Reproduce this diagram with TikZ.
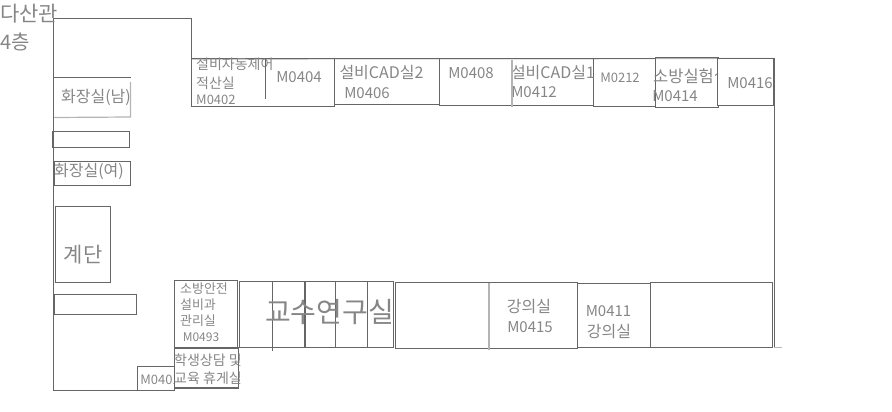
\documentclass[tikz,border=0pt]{standalone}
\usepackage{fontspec}
\setmainfont{Noto Sans CJK KR}
\usetikzlibrary{positioning}
\definecolor{wallgray}{HTML}{666666}
\definecolor{palegray}{HTML}{B4B4B4}
\definecolor{textgray}{HTML}{868686}
\tikzset{
  room/.style={rectangle, draw=wallgray, line width=1pt, anchor=north west, inner sep=0pt, outer sep=0pt},
  wall/.style={draw=wallgray, line width=1pt},
  palewall/.style={draw=palegray, line width=1.2pt},
  lbl/.style={text=textgray, inner sep=0pt, font=\fontsize{13}{13}\selectfont},
  lblmid/.style={lbl, font=\fontsize{15}{15}\selectfont},
  lblkr/.style={lbl, font=\fontsize{16}{16}\selectfont},
  lblleft/.style={lbl, anchor=west},
  lblbig/.style={lbl, font=\fontsize{21}{21}\selectfont},
  lblhuge/.style={lbl, font=\fontsize{28}{28}\selectfont},
}

\begin{document}
\begin{tikzpicture}[x=1pt, y=-1pt]
\useasboundingbox (0,0) rectangle (892,412);

% ================= OUTER WALLS =================
\coordinate (nw) at (53.5,18.5);
\coordinate (ne) at (191.5,18.5);
\coordinate (sw) at (53.5,390);
\coordinate (se) at (174,390);
\coordinate (wingtop) at (191.5,59);
\coordinate (wingend) at (774,58.5);
\coordinate (wingfoot) at (774,347.5);
\coordinate (stub) at (782,347.5);
\draw[wall] (se) -- (sw) -- (nw) -- (ne) -- (wingtop);
\draw[palewall] (wingtop) -- (wingend);
\draw[wall] (wingend) -- (wingfoot);
\draw[palewall] (wingfoot) -- (stub);

% ================= TOP ROW =================
\node[room, minimum width=143pt, minimum height=47pt] (r0402) at (191.5,59) {};
\node[room, minimum width=105pt, minimum height=45pt] (r0406) at (334.5,59) {};
\node[room, minimum width=154pt, minimum height=46pt] (r0408) at (439,59) {};
\node[room, minimum width=62pt, minimum height=47pt] (r0212) at (593.5,59) {};
\node[room, minimum width=63pt, minimum height=49pt] (r0414) at (655.5,58) {};

\node[lblleft, font=\fontsize{14}{14}\selectfont] (t0402a) at (196,64) {설비자동제어};
\node[lblleft, font=\fontsize{14}{14}\selectfont] (t0402b) at (196,83) {적산실};
\node[lblleft] (t0402c) at (196,99.5) {M0402};
\node[lblmid] (t0404) at (299,77) {M0404};
\node[lblkr] (t0406a) at (381.5,72.5) {설비CAD실2};
\node[lblmid] (t0406b) at (367,93) {M0406};
\node[lblmid] (t0408) at (471,73.5) {M0408};
\node[lblkr] (t0412a) at (553,72.5) {설비CAD실1};
\node[lblmid] (t0412b) at (534,92.5) {M0412};
\node[lbl] (t0212) at (620,78) {M0212};
\node[lblleft, font=\fontsize{16.5}{16.5}\selectfont] (t0414a) at (653,76) {소방실험실};
\node[lblmid] (t0414b) at (675,96) {M0414};

\node[room, fill=white, minimum width=56pt, minimum height=46pt] (r0416) at (717.5,59) {};
\node[lblmid] (t0416) at (750,83) {M0416};

\coordinate (d1t) at (265,58);
\coordinate (d1b) at (265,99);
\coordinate (d2t) at (512,60);
\coordinate (d2b) at (512,107);
\draw[wall] (d1t) -- (d1b);
\draw[palewall] (d2t) -- (d2b);

% ================= LEFT COLUMN =================
\coordinate (mt) at (53.5,78);
\coordinate (mr) at (131,78);
\coordinate (mrt) at (130.5,82);
\coordinate (mrb) at (130.5,117);
\coordinate (mb) at (54,117.5);
\draw[wall] (mt) -- (mr);
\draw[palewall] (mrt) -- (mrb) -- (mb);
\node[lblkr] (tmen) at (96,97) {화장실(남)};
\node[room, minimum width=77pt, minimum height=16pt] (slot1) at (52.5,131.5) {};
\node[room, minimum width=76pt, minimum height=24pt] (women) at (54.5,161.5) {};
\node[lblkr] (twomen) at (89,171) {화장실(여)};
\node[room, minimum width=55pt, minimum height=76pt] (stairs) at (55.5,206.5) {};
\node[lblbig] (tstairs) at (83,255) {계단};
\node[room, minimum width=82pt, minimum height=20pt] (slot2) at (54.5,294.5) {};

% ================= BOTTOM ROW =================
\node[room, minimum width=63pt, minimum height=67pt] (r0493) at (174.5,280.5) {};
\node[lbl] (t0493a) at (204,289) {소방안전};
\node[lbl] (t0493b) at (198,305) {설비과};
\node[lbl] (t0493c) at (198,321) {관리실};
\node[lbl, font=\fontsize{12}{12}\selectfont] (t0493d) at (201,337.5) {M0493};
\node[room, minimum width=37pt, minimum height=24pt] (r0401) at (137.5,366) {};
\node[lbl] (t0401) at (160,380) {M0401};
\node[room, fill=white, minimum width=64pt, minimum height=40pt, line width=1.2pt] (lounge) at (174.5,348) {};
\node[lbl, font=\fontsize{14}{14}\selectfont] (tloungea) at (208,360) {학생상담 및};
\node[lbl, font=\fontsize{14}{14}\selectfont] (tloungeb) at (208,378.5) {교육 휴게실};

\node[room, minimum width=154pt, minimum height=66pt] (profs) at (239,281.5) {};
\coordinate (p1t) at (272.5,281.5);
\coordinate (p1b) at (272.5,351);
\coordinate (p2t) at (305,281.5);
\coordinate (p2b) at (305,347.5);
\coordinate (p3t) at (335.5,281.5);
\coordinate (p3b) at (335.5,347.5);
\coordinate (p4t) at (367.5,281.5);
\coordinate (p4b) at (367.5,347.5);
\draw[wall] (p1t) -- (p1b);
\draw[wall, line width=1.5pt] (p2t) -- (p2b);
\draw[wall] (p3t) -- (p3b);
\draw[wall] (p4t) -- (p4b);
\node[lblhuge] (tprofs) at (329.5,312) {교수연구실};

\node[room, minimum width=182pt, minimum height=66pt] (r0415) at (395,282.5) {};
\coordinate (q1t) at (489,282.5);
\coordinate (q1b) at (489,350);
\draw[palewall] (q1t) -- (q1b);
\node[lblkr] (t0415a) at (529,307) {강의실};
\node[lblmid] (t0415b) at (530,327.5) {M0415};
\node[room, minimum width=73pt, minimum height=64pt] (r0411) at (577,283) {};
\node[lblmid] (t0411a) at (608.5,311) {M0411};
\node[lblkr] (t0411b) at (609,331.5) {강의실};
\node[room, minimum width=122pt, minimum height=64.5pt] (rlast) at (650,282.5) {};

% ================= TITLE =================
\node[lblleft, font=\fontsize{21}{21}\selectfont] (title) at (0,14) {다산관};
\node[lblleft, font=\fontsize{20}{20}\selectfont] (floor) at (0,42) {4층};

\end{tikzpicture}
\end{document}
